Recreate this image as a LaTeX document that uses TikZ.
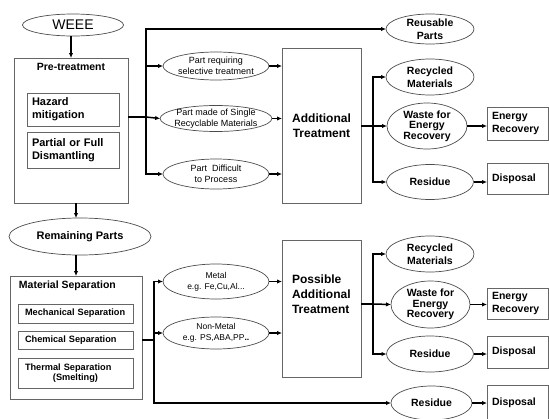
\documentclass[tikz,border=0pt]{standalone}
\usepackage{fontspec}
\setmainfont{Liberation Sans}
\usetikzlibrary{shapes.geometric}
\usetikzlibrary{arrows.meta}
\usetikzlibrary{calc}

\begin{document}
\begin{tikzpicture}[x=1pt, y=-1pt, outer sep=0pt]
          \newcommand{\boxgray}{black!60}
          \newcommand{\buswidth}{1.5pt}

          \tikzstyle{box}=[
            draw=\boxgray,
            rectangle,
            line width=0.8pt,
            inner sep=0pt
          ]
          \tikzstyle{inbox}=[
            box,
            align=left,
            inner xsep=5pt,
            font=\fontsize{11}{13}\selectfont\bfseries
          ]
          \tikzstyle{sepbox}=[
            inbox,
            inner xsep=7pt,
            text width=101,
            font=\fontsize{9.2}{10.5}\selectfont\bfseries
          ]
          \tikzstyle{endbox}=[
            inbox,
            text width=51,
            font=\fontsize{10.5}{12.8}\selectfont\bfseries
          ]
          \tikzstyle{oval}=[
            draw=black!70,
            ellipse,
            line width=0.7pt,
            inner sep=0pt,
            align=center,
            font=\fontsize{10.5}{12.8}\selectfont\bfseries
          ]
          \tikzstyle{smalloval}=[
            oval,
            inner sep=-2pt,
            font=\fontsize{9}{11}\selectfont
          ]
          \tikzstyle{title}=[
            inner sep=0pt,
            font=\fontsize{10.5}{13}\selectfont\bfseries
          ]
          \tikzstyle{line} = [line width=\buswidth, draw=black]
          \tikzstyle{arrow} = [line, ->, >={Latex[length=5pt,width=4.5pt]}]

          \useasboundingbox (0,0) rectangle (549,418);

          % pre-treatment
          \node[oval, minimum width=101, minimum height=22, font=\fontsize{14}{16}\selectfont] (weee) at (73,25) {WEEE};
          \node[box, minimum width=114, minimum height=145] (pre) at (71,130.5) {};
          \node[title] (pretitle) at (71,67) {Pre-treatment};
          \node[inbox, text width=82, minimum height=33] (hazard) at (73,109.5) {Hazard\\mitigation};
          \node[inbox, text width=82, minimum height=36] (dismantle) at (73,150) {Partial or Full\\Dismantling};

          \node[smalloval, minimum width=106, minimum height=28] (psel) at (216,66) {Part requiring\\selective treatment};
          \node[smalloval, minimum width=106, minimum height=26] (psingle) at (216,118.5) {Part made of Single\\Recyclable Materials};
          \node[smalloval, minimum width=106, minimum height=30] (pdiff) at (216,174) {Part~ Difficult\\to Process};

          \node[box, minimum width=79, minimum height=155, align=center, font=\fontsize{12}{15}\selectfont\bfseries] (addtr) at (321.5,125.5) {Additional\\Treatment};

          \node[oval, minimum width=88, minimum height=30] (reuse) at (430,29) {Reusable\\Parts};
          \node[oval, minimum width=88, minimum height=36] (recyc1) at (430,77) {Recycled\\Materials};
          \node[oval, minimum width=80, minimum height=46, font=\fontsize{10.5}{10.5}\selectfont\bfseries] (waste1) at (427,126) {Waste for\\Energy\\Recovery};
          \node[oval, minimum width=87, minimum height=35] (resid1) at (430,182) {Residue};
          \node[endbox, minimum height=33] (energy1) at (517.5,123.5) {Energy\\Recovery};
          \node[endbox, minimum height=31] (dispo1) at (517.5,178.5) {Disposal};

          % material separation
          \node[oval, minimum width=142, minimum height=37, font=\fontsize{11}{13}\selectfont\bfseries] (remain) at (80,236.5) {Remaining Parts};
          \node[box, minimum width=132, minimum height=123] (matsep) at (76,337.5) {};
          \node[title, anchor=west] (mattitle) at (19,286) {Material Separation};
          \node[sepbox, minimum height=19] (mech) at (75.5,313.5) {Mechanical Separation};
          \node[sepbox, minimum height=18] (chem) at (75.5,340) {Chemical Separation};
          \node[sepbox, minimum height=30] (therm) at (75.5,373) {Thermal Separation\\\hspace*{28pt}(Smelting)};

          \node[smalloval, minimum width=106, minimum height=35, font=\fontsize{8.5}{11}\selectfont] (metal) at (216,281.5) {Metal\\e.g. Fe,Cu,Al...};
          \node[smalloval, minimum width=106, minimum height=32, font=\fontsize{8.5}{11}\selectfont] (nonmetal) at (216,333) {Non-Metal\\e.g. PS,ABA,PP\textbf{..}};

          \node[box, minimum width=79, minimum height=137] (posstr) at (321.5,308.5) {};
          \node[inner sep=0pt, anchor=west, align=left, font=\fontsize{12}{15}\selectfont\bfseries] (posstext) at (292,294) {Possible\\Additional\\Treatment};

          \node[oval, minimum width=88, minimum height=36] (recyc2) at (430,254) {Recycled\\Materials};
          \node[oval, minimum width=79, minimum height=47, font=\fontsize{10.5}{10.5}\selectfont\bfseries] (waste2) at (430.5,304.5) {Waste for\\Energy\\Recovery};
          \node[oval, minimum width=87, minimum height=36] (resid2) at (430,354) {Residue};
          \node[oval, minimum width=81, minimum height=34] (resid3) at (431.5,403) {Residue};
          \node[endbox, minimum height=31] (energy2) at (517.5,303.5) {Energy\\Recovery};
          \node[endbox, minimum height=32] (dispo2) at (517.5,352) {Disposal};
          \node[endbox, minimum height=36] (dispo3) at (517.5,403) {Disposal};

          % junctions
          \coordinate (busa) at (146,117);
          \coordinate (busb) at (373,126);
          \coordinate (busc) at (154,340);
          \coordinate (busd) at (373,304);

          \draw[arrow] (weee.south -| pre.north) -- (pre.north);
          \draw[line] (pre.east |- busa) -- (busa);
          \draw[arrow] (busa) |- (reuse.west);
          \draw[arrow] (busa) |- (psel.west);
          \draw[arrow] (busa) -- (psingle.west);
          \draw[arrow] (busa) |- (pdiff.west);
          \draw[arrow] (psel.east) -- (psel.east -| addtr.west);
          \draw[arrow] (psingle.east) -- (psingle.east -| addtr.west);
          \draw[arrow] (pdiff.east) -- (pdiff.east -| addtr.west);
          \draw[line] (addtr.east |- busb) -- (busb);
          \draw[arrow] (busb) |- (recyc1.west);
          \draw[arrow] (busb) -- (waste1.west);
          \draw[arrow] (busb) |- (resid1.west);
          \draw[arrow] (waste1.east) -- (waste1.east -| energy1.west);
          \draw[arrow] (resid1.east) -- (resid1.east -| dispo1.west);

          \draw[arrow] (pre.south -| matsep.north) -- (remain.north -| matsep.north);
          \draw[arrow] (remain.south -| matsep.north) -- (matsep.north);
          \draw[line] (matsep.east |- busc) -- (busc);
          \draw[arrow] (busc) |- (metal.west);
          \draw[arrow] (busc) |- (nonmetal.west);
          \draw[arrow] (busc) |- (resid3.west);
          \draw[arrow] (metal.east) -- (metal.east -| posstr.west);
          \draw[arrow] (nonmetal.east) -- (nonmetal.east -| posstr.west);
          \draw[line] (posstr.east |- busd) -- (busd);
          \draw[arrow] (busd) |- (recyc2.west);
          \draw[arrow] (busd) -- (waste2.west);
          \draw[arrow] (busd) |- (resid2.west);
          \draw[arrow] (waste2.east) -- (waste2.east -| energy2.west);
          \draw[arrow] (resid2.east) -- (resid2.east -| dispo2.west);
          \draw[arrow] (resid3.east) -- (resid3.east -| dispo3.west);

        \end{tikzpicture}
\end{document}
